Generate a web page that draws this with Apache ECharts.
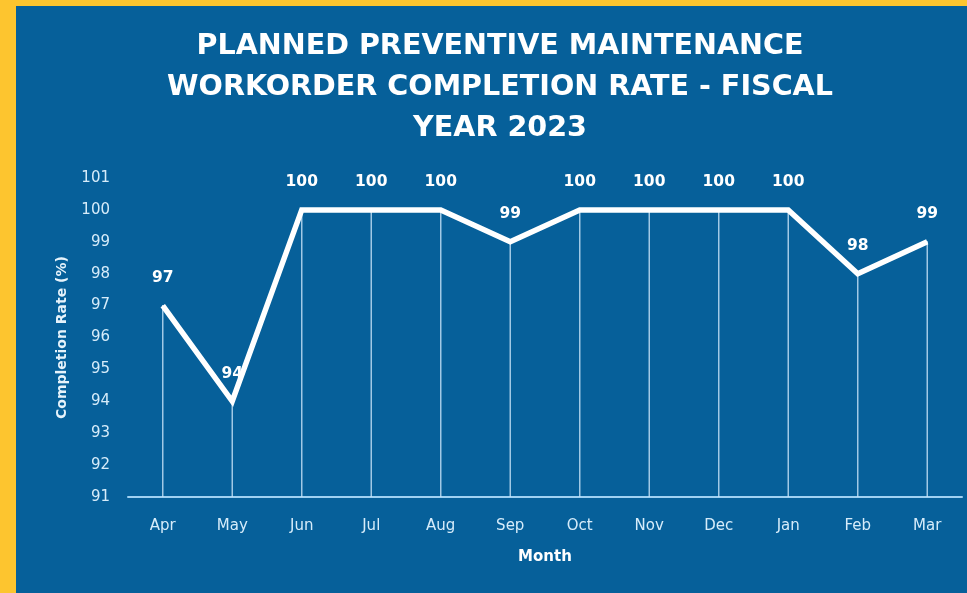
<!DOCTYPE html>
<html>
<head>
<meta charset="utf-8">
<script src="https://cdn.jsdelivr.net/npm/echarts@6/dist/echarts.min.js"></script>
<style>
html,body{margin:0;padding:0;width:967px;height:593px;background:#fdc52f;overflow:hidden;}
#chart{position:absolute;left:16px;top:6px;width:951px;height:587px;background:#06609a;}
</style>
</head>
<body>
<div id="chart"></div>
<script>
const titleLines = ["PLANNED PREVENTIVE MAINTENANCE", "WORKORDER COMPLETION RATE - FISCAL", "YEAR 2023"];
const months = ["Apr","May","Jun","Jul","Aug","Sep","Oct","Nov","Dec","Jan","Feb","Mar"];
const rates = [97, 94, 100, 100, 100, 99, 100, 100, 100, 100, 98, 99];
const yTicks = {min: 91, max: 101, interval: 1};
const xName = "Month";
const yName = "Completion Rate (%)";

const chart = echarts.init(document.getElementById('chart'));
chart.setOption({
  backgroundColor: '#06609a',
  animation: false,
  title: {
    text: titleLines.join('\n'),
    left: 479, top: 15, textAlign: 'center',
    textStyle: {color: '#ffffff', fontFamily: 'DejaVu Sans', fontWeight: 'bold', fontSize: 28.6, lineHeight: 41}
  },
  grid: {left: 112, right: 5, top: 172, bottom: 96},
  xAxis: {
    type: 'category', data: months, boundaryGap: true,
    name: xName, nameLocation: 'middle', nameGap: 53,
    nameTextStyle: {color: '#ffffff', fontWeight: 'bold', fontSize: 15, fontFamily: 'DejaVu Sans'},
    axisLine: {lineStyle: {color: '#9fd1f2', width: 2}},
    axisTick: {show: false},
    axisLabel: {color: '#d6ecfa', fontSize: 15, margin: 22, fontFamily: 'DejaVu Sans'},
    splitLine: {show: false}
  },
  yAxis: {
    type: 'value', min: yTicks.min, max: yTicks.max, interval: yTicks.interval,
    name: yName, nameLocation: 'middle', nameGap: 59, nameRotate: 90,
    nameTextStyle: {color: '#e6f3fb', fontWeight: 'bold', fontSize: 14, fontFamily: 'DejaVu Sans'},
    axisLine: {show: false}, axisTick: {show: false}, splitLine: {show: false},
    axisLabel: {color: '#d6ecfa', fontSize: 15, margin: 18, fontFamily: 'DejaVu Sans'}
  },
  series: [
    {
      type: 'bar', data: rates, barWidth: 1.5, silent: true,
      itemStyle: {color: 'rgba(200,228,247,0.8)'}, z: 1
    },
    {
      type: 'line', data: rates, symbol: 'circle', symbolSize: 1, showSymbol: true, z: 3,
      itemStyle: {color: '#ffffff'},
      lineStyle: {color: '#ffffff', width: 5.5, join: 'miter'},
      label: {show: true, position: 'top', distance: 19, color: '#ffffff', fontWeight: 'bold', fontSize: 15.5, fontFamily: 'DejaVu Sans'}
    }
  ]
});
</script>
</body>
</html>
